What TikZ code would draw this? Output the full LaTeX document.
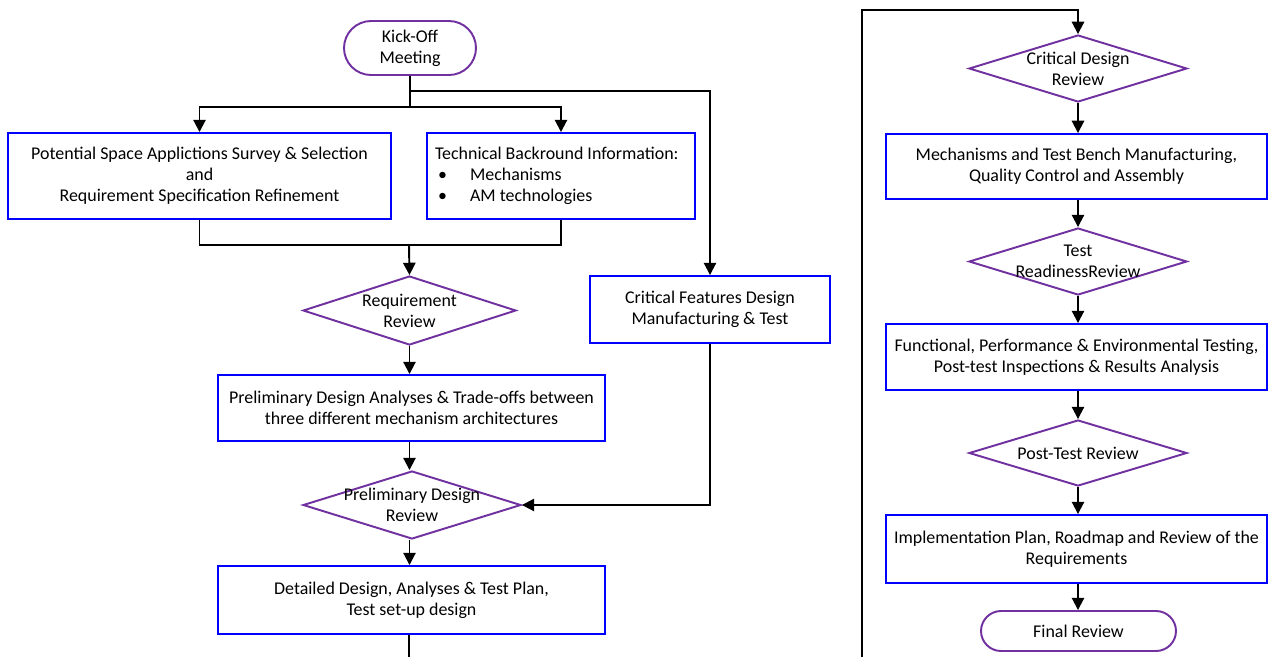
\documentclass[tikz,border=0pt]{standalone}
\usepackage{fontspec}
\setmainfont{Carlito}
\usetikzlibrary{shapes.geometric,shapes.misc,arrows.meta}
\definecolor{boxblue}{HTML}{0000FF}
\definecolor{revpurple}{HTML}{7030A0}
\begin{document}
\begin{tikzpicture}[x=0.02cm,y=-0.02cm,
  every node/.style={font=\fontsize{10.2}{11.9}\selectfont, align=center, inner sep=0pt},
  taskbox/.style={draw=boxblue, line width=1.1pt, rectangle},
  revdiam/.style={draw=revpurple, line width=1.1pt, diamond, aspect=3.2, inner sep=-9pt},
  pill/.style={draw=revpurple, line width=1.1pt, rounded rectangle},
  conn/.style={line width=1.1pt, black},
  arr/.style={conn, -{Triangle[length=7pt,width=7pt]}}]
\useasboundingbox (0,0) rectangle (1269,657);
% left column
\node[pill, minimum width=2.64cm, minimum height=1.08cm] (ko) at (410,48) {Kick-Off\\Meeting};
\node[taskbox, minimum width=7.66cm, minimum height=1.72cm] (sa) at (199.5,176) {Potential Space Applictions Survey \& Selection\\and\\Requirement Specification Refinement};
\node[taskbox, minimum width=5.36cm, minimum height=1.72cm, text width=5.04cm, align=flush left] (tb) at (561,176) {Technical Backround Information:\\\makebox[0.7cm][l]{\hspace{0.06cm}\textbullet}Mechanisms\\\makebox[0.7cm][l]{\hspace{0.06cm}\textbullet}AM technologies};
\node[revdiam, minimum width=4.26cm, minimum height=1.38cm] (rr) at (409.5,310.5) {Requirement\\Review};
\node[taskbox, minimum width=4.8cm, minimum height=1.34cm] (cf) at (710,309.5) {Critical Features Design\\Manufacturing \& Test};
\node[taskbox, minimum width=7.74cm, minimum height=1.32cm] (pd) at (411.5,408) {Preliminary Design Analyses \& Trade-offs between\\three different mechanism architectures};
\node[revdiam, minimum width=4.36cm, minimum height=1.36cm] (pdr) at (412,505) {Preliminary Design\\Review};
\node[taskbox, minimum width=7.74cm, minimum height=1.36cm] (dd) at (411.5,600) {Detailed Design, Analyses \& Test Plan,\\Test set-up design};
% right column
\node[revdiam, minimum width=4.36cm, minimum height=1.34cm] (cdr) at (1078,68.5) {Critical Design\\Review};
\node[taskbox, minimum width=7.62cm, minimum height=1.30cm] (mf) at (1076.5,166.5) {Mechanisms and Test Bench Manufacturing,\\Quality Control and Assembly};
\node[revdiam, minimum width=4.36cm, minimum height=1.34cm] (trr) at (1078,261.5) {Test\\ReadinessReview};
\node[taskbox, minimum width=7.62cm, minimum height=1.32cm] (ft) at (1076.5,357) {Functional, Performance \& Environmental Testing,\\Post-test Inspections \& Results Analysis};
\node[revdiam, minimum width=4.36cm, minimum height=1.32cm] (ptr) at (1078,453) {Post-Test Review};
\node[taskbox, minimum width=7.62cm, minimum height=1.36cm] (ip) at (1076.5,549) {Implementation Plan, Roadmap and Review of the\\Requirements};
\node[pill, minimum width=3.9cm, minimum height=0.8cm] (fr) at (1078.5,631) {Final Review};
% junctions
\coordinate (j0) at (410,91);
\coordinate (j1) at (410,107);
\coordinate (j2) at (409,245);
\coordinate (lb) at (409,657);
\coordinate (rb) at (862,657);
\coordinate (rt) at (862,10);
% connectors
\draw[conn] (ko.south) -- (j1);
\draw[arr] (j1) -| (sa.north);
\draw[arr] (j1) -| (tb.north);
\draw[arr] (j0) -| (cf.north);
\draw[conn] (sa.south) |- (j2);
\draw[conn] (tb.south) |- (j2);
\draw[arr] (j2) -- (rr.north);
\draw[arr] (rr.south) -- (pd.north -| rr.south);
\draw[arr] (pd.south -| rr.south) -- (pdr.north -| rr.south);
\draw[arr] (cf.south) |- (pdr.east);
\draw[arr] (pdr.south -| rr.south) -- (dd.north -| rr.south);
\draw[conn] (dd.south -| lb) -- (lb);
\draw[arr] (rb) -- (rt) -| (cdr.north);
\draw[arr] (cdr.south) -- (mf.north -| cdr.south);
\draw[arr] (mf.south -| cdr.south) -- (trr.north);
\draw[arr] (trr.south) -- (ft.north -| trr.south);
\draw[arr] (ft.south -| trr.south) -- (ptr.north);
\draw[arr] (ptr.south) -- (ip.north -| ptr.south);
\draw[arr] (ip.south -| ptr.south) -- (fr.north -| ptr.south);
\end{tikzpicture}
\end{document}
